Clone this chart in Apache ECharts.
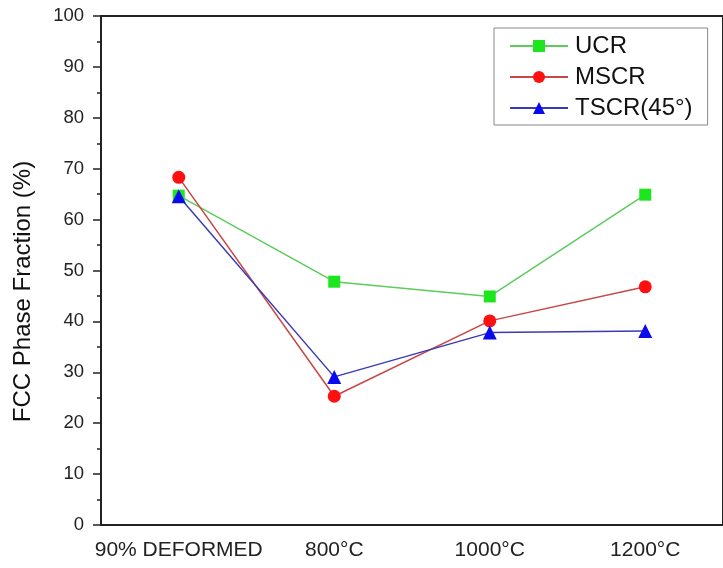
<!DOCTYPE html>
<html>
<head>
<meta charset="utf-8">
<script src="https://cdn.jsdelivr.net/npm/echarts@6/dist/echarts.min.js"></script>
<style>
  html, body { margin: 0; padding: 0; background: #fff; }
  #chart { width: 723px; height: 568px; }
</style>
</head>
<body>
<div id="chart"></div>
<script>
  // data
  var categories = ['90% DEFORMED', '800°C', '1000°C', '1200°C'];
  var ucr = [64.7, 47.8, 44.9, 64.9];
  var mscr = [68.3, 25.3, 40.1, 46.8];
  var tscr = [64.6, 29.1, 37.8, 38.1];
  var yTicks = [0, 10, 20, 30, 40, 50, 60, 70, 80, 90, 100];

  var font = 'Liberation Sans, Arial, sans-serif';
  var myChart = echarts.init(document.getElementById('chart'));

  function lineSeries(name, data, symbol, size, markColor, lineColor) {
    return {
      name: name,
      type: 'line',
      data: data,
      symbol: symbol,
      symbolSize: size,
      itemStyle: { color: markColor },
      lineStyle: { color: lineColor, width: 1.5 },
      emphasis: { disabled: true },
      animation: false
    }
  }

  var option = {
    animation: false,
    grid: {
      left: 101,
      top: 16,
      width: 626,
      height: 509,
      show: true,
      borderColor: '#222',
      borderWidth: 2,
      backgroundColor: '#fff'
    },
    legend: {
      orient: 'vertical',
      left: 494,
      top: 28,
      padding: [6, 15, 5, 15],
      itemGap: 7,
      itemWidth: 58,
      itemHeight: 15,
      borderColor: '#888',
      borderWidth: 1,
      textStyle: { fontFamily: font, fontSize: 24, lineHeight: 24, color: '#111', padding: [0, 0, 0, 2] },
      data: ['UCR', 'MSCR', 'TSCR(45°)']
    },
    xAxis: {
      type: 'category',
      data: categories,
      boundaryGap: true,
      axisLine: { lineStyle: { color: '#222', width: 2 } },
      axisTick: { interval: 0, alignWithLabel: true, length: 7, lineStyle: { color: '#222', width: 1.5 } },
      axisLabel: { interval: 0, fontFamily: font, fontSize: 21, color: '#222', margin: 15 }
    },
    yAxis: {
      type: 'value',
      min: yTicks[0],
      max: yTicks[yTicks.length - 1],
      interval: 10,
      name: 'FCC Phase Fraction (%)',
      nameLocation: 'middle',
      nameGap: 66,
      nameTextStyle: { fontFamily: font, fontSize: 24, color: '#111', padding: [0, 42, 0, 0] },
      axisLine: { show: true, lineStyle: { color: '#222', width: 2 } },
      axisTick: { show: true, length: 8, lineStyle: { color: '#222', width: 1.5 } },
      minorTick: { show: true, splitNumber: 2, length: 4, lineStyle: { color: '#222', width: 1.5 } },
      splitLine: { show: false },
      axisLabel: { fontFamily: font, fontSize: 18.5, color: '#222', margin: 17 }
    },
    series: [
      lineSeries('UCR', ucr, 'rect', 12, '#1ee61e', '#5ccc5c'),
      lineSeries('MSCR', mscr, 'circle', 13, '#ff1010', '#c84646'),
      lineSeries('TSCR(45°)', tscr, 'triangle', 14, '#0a0aee', '#3a3ab8')
    ]
  };
  myChart.setOption(option);
</script>
</body>
</html>
